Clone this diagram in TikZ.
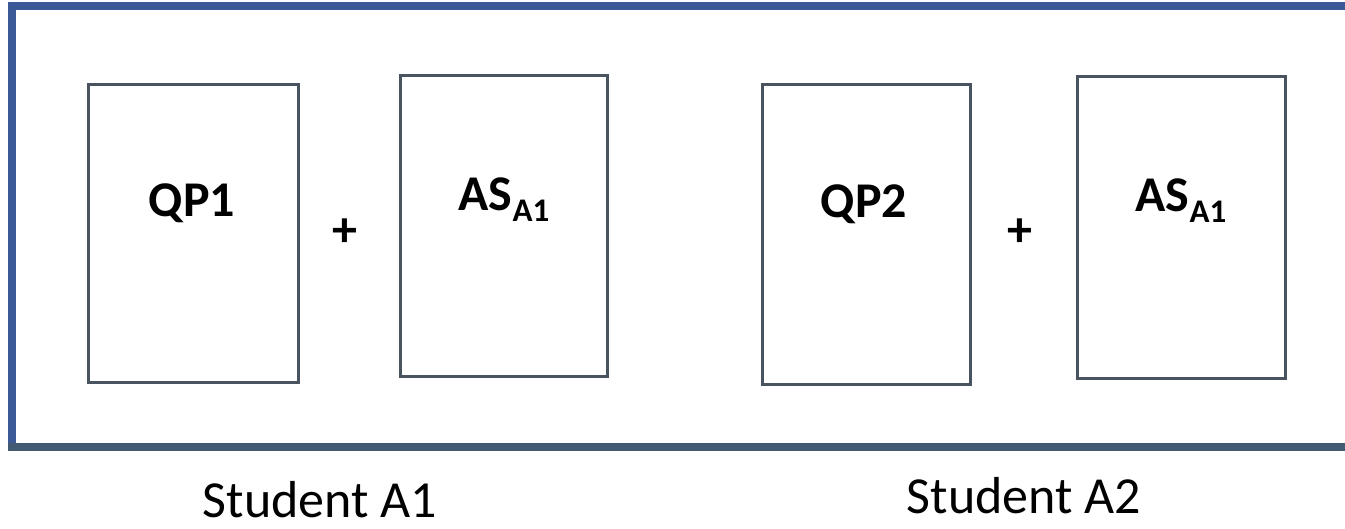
\documentclass[tikz,border=0pt]{standalone}
\usepackage{fontspec}
\setmainfont{Carlito}
\definecolor{frameblue}{RGB}{59,89,150}
\definecolor{frameslate}{RGB}{66,90,114}
\definecolor{boxline}{RGB}{74,84,96}
\tikzset{
  sheet/.style={draw=boxline, line width=3pt, fill=white, inner sep=0pt},
  paper/.style={anchor=base, inner sep=0pt, font=\fontsize{50}{60}\selectfont\bfseries},
  plus/.style={inner sep=0pt, font=\fontsize{50}{60}\selectfont\bfseries},
  caption/.style={anchor=base, inner sep=0pt, font=\fontsize{52}{62}\selectfont},
}
\newcommand{\answersheet}{AS\raisebox{-11pt}{\fontsize{33}{36}\selectfont A1}}
\begin{document}
\begin{tikzpicture}[x=1pt, y=-1pt]
  \useasboundingbox (0,0) rectangle (1345,529);
  \fill[white] (0,0) rectangle (1345,529);
  % outer frame, open past the right edge
  \draw[frameblue, line width=8pt] (1365,6) -- (12,6) -- (12,451);
  \draw[frameslate, line width=8pt] (8,447) -- (1365,447);
  % student A1
  \node[sheet, minimum width=210pt, minimum height=298pt] (qp1) at (193,234) {};
  \node[sheet, minimum width=207pt, minimum height=301pt] (as1) at (503.5,226.5) {};
  \node[paper] (qp1t) at (192,217) {QP1};
  \node[paper] (as1t) at (504,211) {\answersheet};
  \node[plus] (plus1) at (345,233) {+};
  % student A2
  \node[sheet, minimum width=208pt, minimum height=300pt] (qp2) at (866,235) {};
  \node[sheet, minimum width=208pt, minimum height=302pt] (as2) at (1181,228) {};
  \node[paper] (qp2t) at (864,218) {QP2};
  \node[paper] (as2t) at (1181,212) {\answersheet};
  \node[plus] (plus2) at (1020,233) {+};
  % captions
  \node[caption] (capa) at (320,517) {Student A1};
  \node[caption] (capb) at (1024,513) {Student A2};
\end{tikzpicture}
\end{document}
